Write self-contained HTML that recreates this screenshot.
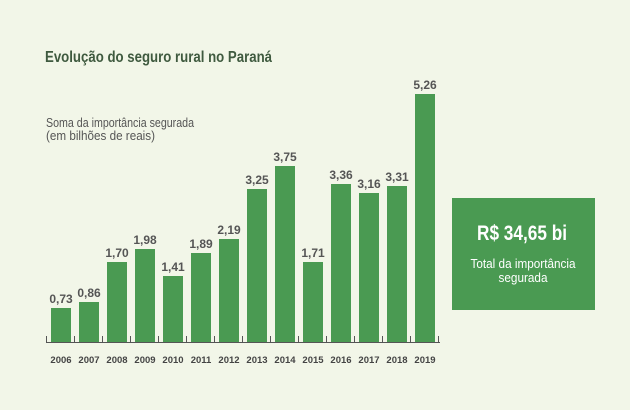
<!DOCTYPE html>
<html><head><meta charset="utf-8"><style>
html,body{margin:0;padding:0;background:#f2f6e8;}
svg{display:block;font-family:"Liberation Sans",sans-serif;}
</style></head><body>
<svg width="630" height="410" viewBox="0 0 630 410" xmlns="http://www.w3.org/2000/svg">
<rect width="630" height="410" fill="#f2f6e8"/>
<text x="45" y="62" font-size="16" font-weight="bold" fill="#3f5a3f" textLength="227" lengthAdjust="spacingAndGlyphs">Evolução do seguro rural no Paraná</text>
<text x="46" y="127" font-size="12.5" fill="#555" textLength="148" lengthAdjust="spacingAndGlyphs">Soma da importância segurada</text>
<text x="46" y="140" font-size="12.5" fill="#555" textLength="109" lengthAdjust="spacingAndGlyphs">(em bilhões de reais)</text>
<g fill="#4a9a52">
<rect x="51" y="308" width="20" height="34"/>
<rect x="79" y="302" width="20" height="40"/>
<rect x="107" y="262" width="20" height="80"/>
<rect x="135" y="249" width="20" height="93"/>
<rect x="163" y="276" width="20" height="66"/>
<rect x="191" y="253" width="20" height="89"/>
<rect x="219" y="239" width="20" height="103"/>
<rect x="247" y="189" width="20" height="153"/>
<rect x="275" y="166" width="20" height="176"/>
<rect x="303" y="262" width="20" height="80"/>
<rect x="331" y="184" width="20" height="158"/>
<rect x="359" y="193" width="20" height="149"/>
<rect x="387" y="186" width="20" height="156"/>
<rect x="415" y="94" width="20" height="248"/>
</g>
<g stroke="#555" stroke-width="1">
<line x1="46" y1="342.5" x2="440" y2="342.5"/>
<path d="M46.5 336v7M74.5 336v7M102.5 336v7M130.5 336v7M158.5 336v7M186.5 336v7M214.5 336v7M242.5 336v7M270.5 336v7M298.5 336v7M326.5 336v7M354.5 336v7M382.5 336v7M410.5 336v7M438.5 336v7"/>
</g>
<g font-size="12" font-weight="bold" fill="#555" text-anchor="middle">
<text x="61" y="303">0,73</text>
<text x="89" y="297">0,86</text>
<text x="117" y="257">1,70</text>
<text x="145" y="244">1,98</text>
<text x="173" y="271">1,41</text>
<text x="201" y="248">1,89</text>
<text x="229" y="234">2,19</text>
<text x="257" y="184">3,25</text>
<text x="285" y="161">3,75</text>
<text x="313" y="257">1,71</text>
<text x="341" y="179">3,36</text>
<text x="369" y="188">3,16</text>
<text x="397" y="181">3,31</text>
<text x="425" y="89">5,26</text>
</g>
<g font-size="9.5" font-weight="bold" fill="#444" text-anchor="middle">
<text x="61" y="363">2006</text><text x="89" y="363">2007</text><text x="117" y="363">2008</text>
<text x="145" y="363">2009</text><text x="173" y="363">2010</text><text x="201" y="363">2011</text>
<text x="229" y="363">2012</text><text x="257" y="363">2013</text><text x="285" y="363">2014</text>
<text x="313" y="363">2015</text><text x="341" y="363">2016</text><text x="369" y="363">2017</text>
<text x="397" y="363">2018</text><text x="425" y="363">2019</text>
</g>
<rect x="452" y="198" width="143" height="112" fill="#4a9a52"/>
<text x="477" y="240" font-size="21" font-weight="bold" fill="#fff" textLength="90" lengthAdjust="spacingAndGlyphs">R$ 34,65 bi</text>
<text x="523" y="268" font-size="13" fill="#fff" text-anchor="middle" textLength="105" lengthAdjust="spacingAndGlyphs">Total da importância</text>
<text x="523" y="282" font-size="13" fill="#fff" text-anchor="middle" textLength="49" lengthAdjust="spacingAndGlyphs">segurada</text>
</svg>
</body></html>
